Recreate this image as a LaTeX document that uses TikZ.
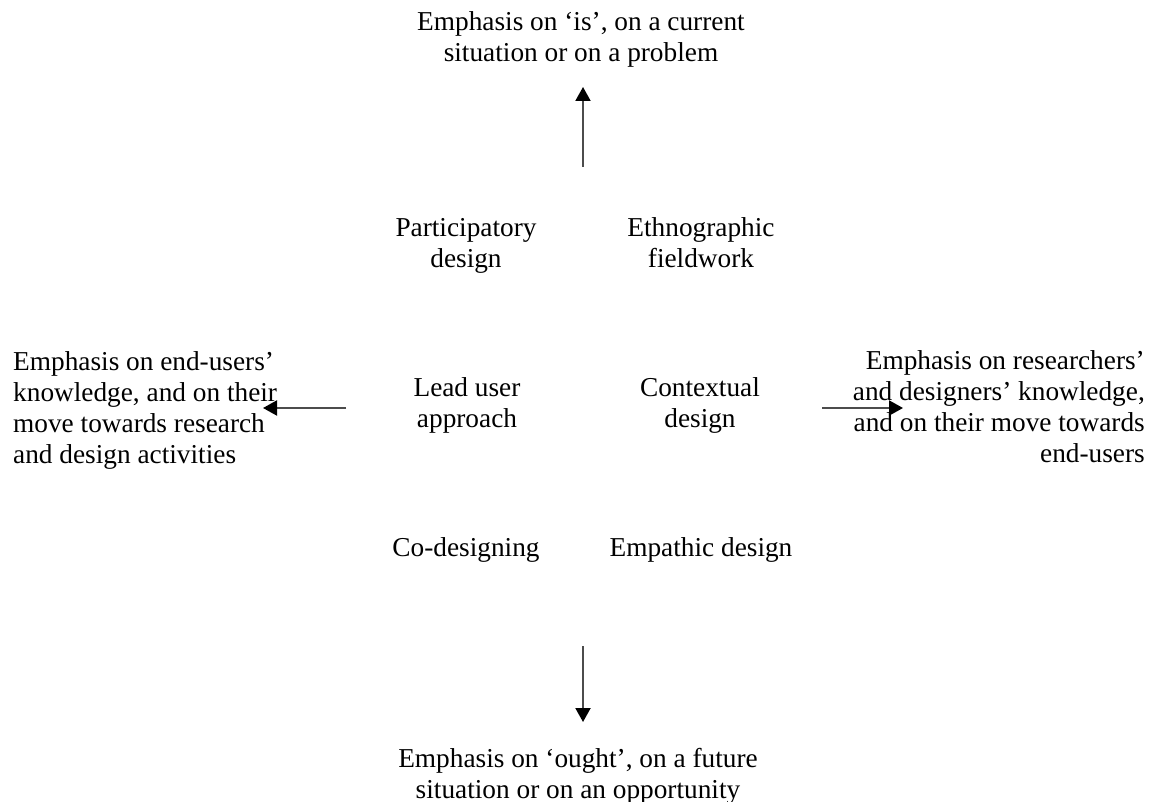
\documentclass[tikz,border=0pt]{standalone}
\usepackage{fontspec}
\setmainfont{Liberation Serif}
\usetikzlibrary{arrows.meta}
\begin{document}
\begin{tikzpicture}[x=1pt,y=-1pt,
  lbl/.style={inner sep=0pt,align=center,font=\fontsize{27.3pt}{31pt}\selectfont},
  axis/.style={draw=black!70,line width=2pt,-{Triangle[length=14pt,width=15pt,color=black]}}]
\useasboundingbox (0,0) rectangle (1162,802);
% poles
\node[lbl](is) at (581,39){Emphasis on ‘is’, on a current\\situation or on a problem};
\node[lbl](ought) at (578,776){Emphasis on ‘ought’, on a future\\situation or on an opportunity};
\node[lbl,align=left,anchor=west](users) at (13,410){Emphasis on end-users’\\knowledge, and on their\\move towards research\\and design activities};
\node[lbl,align=right,anchor=east](designers) at (1145,406.5){Emphasis on researchers’\\and designers’ knowledge,\\and on their move towards\\end-users};
% approaches
\node[lbl](PD) at (466,246){Participatory\\design};
\node[lbl](EF) at (701,242.5){Ethnographic\\fieldwork};
\node[lbl](LU) at (467,405){Lead user\\approach};
\node[lbl](CD) at (700,405){Contextual\\design};
\node[lbl](CO) at (466,549.5){Co-designing};
\node[lbl](ED) at (701,549.5){Empathic design};
% arrows
\coordinate (up0) at (583,167); \coordinate (up1) at (583,87);
\coordinate (dn0) at (583,646); \coordinate (dn1) at (583,722);
\coordinate (lt0) at (346,408); \coordinate (lt1) at (263,408);
\coordinate (rt0) at (822,408); \coordinate (rt1) at (903,408);
\draw[axis] (up0) -- (up1);
\draw[axis] (dn0) -- (dn1);
\draw[axis] (lt0) -- (lt1);
\draw[axis] (rt0) -- (rt1);
\end{tikzpicture}
\end{document}
